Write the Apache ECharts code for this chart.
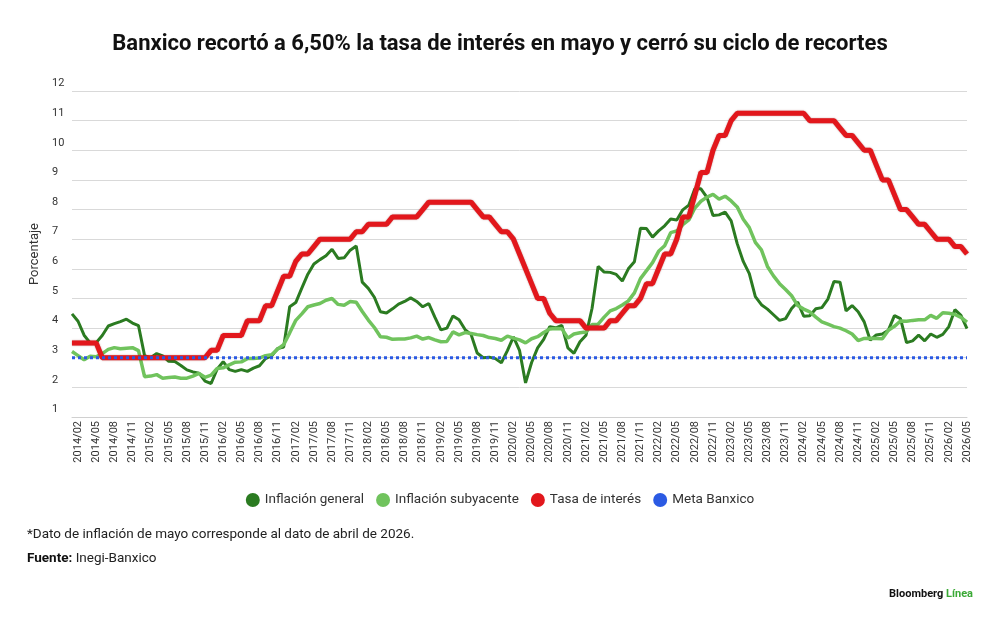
<!DOCTYPE html>
<html>
<head>
<meta charset="utf-8">
<script src="https://cdn.jsdelivr.net/npm/echarts@6/dist/echarts.min.js"></script>
<style>
html,body{margin:0;padding:0;background:#fff;}
#chart{width:1000px;height:619px;}
</style>
</head>
<body>
<div id="chart"></div>
<script>
// monthly points, 2014/01 .. 2026/05
var startYear = 2014, endYear = 2026, endMonth = 5;

var inflacionGeneral = [
	4.48, 4.23, 3.76, 3.50, 3.51, 3.75, 4.07, 4.15, 4.22, 4.30, 4.17, 4.08,
	3.07, 3.00, 3.14, 3.06, 2.88, 2.87, 2.74, 2.59, 2.52, 2.48, 2.21, 2.13,
	2.61, 2.87, 2.60, 2.54, 2.60, 2.54, 2.65, 2.73, 2.97, 3.06, 3.31, 3.36,
	4.72, 4.86, 5.35, 5.82, 6.16, 6.31, 6.44, 6.66, 6.35, 6.37, 6.63, 6.77,
	5.55, 5.34, 5.04, 4.55, 4.51, 4.65, 4.81, 4.90, 5.02, 4.90, 4.72, 4.83,
	4.37, 3.94, 4.00, 4.41, 4.28, 3.95, 3.78, 3.16, 3.00, 3.02, 2.97, 2.83,
	3.24, 3.70, 3.25, 2.15, 2.84, 3.33, 3.62, 4.05, 4.01, 4.09, 3.33, 3.15,
	3.54, 3.76, 4.67, 6.08, 5.89, 5.88, 5.81, 5.59, 6.00, 6.24, 7.37, 7.36,
	7.07, 7.28, 7.45, 7.68, 7.65, 7.99, 8.15, 8.70, 8.70, 8.41, 7.80, 7.82,
	7.91, 7.62, 6.85, 6.25, 5.84, 5.06, 4.79, 4.64, 4.45, 4.26, 4.32, 4.66,
	4.88, 4.40, 4.42, 4.65, 4.69, 4.98, 5.57, 5.55, 4.58, 4.76, 4.55, 4.21,
	3.59, 3.77, 3.80, 3.93, 4.42, 4.32, 3.51, 3.57, 3.76, 3.57, 3.80, 3.69,
	3.79, 4.05, 4.62, 4.43, 3.98
];

var inflacionSubyacente = [
	3.21, 3.07, 2.93, 3.05, 3.03, 3.14, 3.28, 3.34, 3.30, 3.32, 3.34, 3.24,
	2.36, 2.38, 2.43, 2.31, 2.33, 2.35, 2.31, 2.31, 2.38, 2.47, 2.34, 2.41,
	2.64, 2.66, 2.76, 2.85, 2.86, 2.97, 2.97, 2.99, 3.07, 3.10, 3.29, 3.44,
	3.84, 4.26, 4.48, 4.72, 4.78, 4.83, 4.94, 5.00, 4.80, 4.77, 4.90, 4.87,
	4.56, 4.27, 4.02, 3.71, 3.69, 3.62, 3.63, 3.63, 3.67, 3.73, 3.63, 3.68,
	3.60, 3.54, 3.55, 3.87, 3.77, 3.85, 3.82, 3.78, 3.75, 3.68, 3.65, 3.59,
	3.73, 3.66, 3.60, 3.50, 3.64, 3.71, 3.85, 3.97, 3.99, 3.98, 3.66, 3.80,
	3.84, 3.87, 4.12, 4.13, 4.37, 4.58, 4.66, 4.78, 4.92, 5.19, 5.67, 5.94,
	6.21, 6.59, 6.78, 7.22, 7.28, 7.49, 7.65, 8.05, 8.28, 8.42, 8.51, 8.35,
	8.45, 8.29, 8.09, 7.67, 7.39, 6.89, 6.64, 6.08, 5.76, 5.50, 5.30, 5.09,
	4.76, 4.64, 4.55, 4.37, 4.21, 4.13, 4.05, 4.00, 3.91, 3.80, 3.58, 3.65,
	3.66, 3.65, 3.64, 3.93, 4.06, 4.24, 4.23, 4.26, 4.28, 4.28, 4.43, 4.33,
	4.52, 4.50, 4.46, 4.36, 4.20
];

var tasaInteres = [
	3.50, 3.50, 3.50, 3.50, 3.50, 3.00, 3.00, 3.00, 3.00, 3.00, 3.00, 3.00,
	3.00, 3.00, 3.00, 3.00, 3.00, 3.00, 3.00, 3.00, 3.00, 3.00, 3.00, 3.25,
	3.25, 3.75, 3.75, 3.75, 3.75, 4.25, 4.25, 4.25, 4.75, 4.75, 5.25, 5.75,
	5.75, 6.25, 6.50, 6.50, 6.75, 7.00, 7.00, 7.00, 7.00, 7.00, 7.00, 7.25,
	7.25, 7.50, 7.50, 7.50, 7.50, 7.75, 7.75, 7.75, 7.75, 7.75, 8.00, 8.25,
	8.25, 8.25, 8.25, 8.25, 8.25, 8.25, 8.25, 8.00, 7.75, 7.75, 7.50, 7.25,
	7.25, 7.00, 6.50, 6.00, 5.50, 5.00, 5.00, 4.50, 4.25, 4.25, 4.25, 4.25,
	4.25, 4.00, 4.00, 4.00, 4.00, 4.25, 4.25, 4.50, 4.75, 4.75, 5.00, 5.50,
	5.50, 6.00, 6.50, 6.50, 7.00, 7.75, 7.75, 8.50, 9.25, 9.25, 10.00, 10.50,
	10.50, 11.00, 11.25, 11.25, 11.25, 11.25, 11.25, 11.25, 11.25, 11.25, 11.25, 11.25,
	11.25, 11.25, 11.00, 11.00, 11.00, 11.00, 11.00, 10.75, 10.50, 10.50, 10.25, 10.00,
	10.00, 9.50, 9.00, 9.00, 8.50, 8.00, 8.00, 7.75, 7.50, 7.50, 7.25, 7.00,
	7.00, 7.00, 6.75, 6.75, 6.50
];

var metaBanxico = 3;

var colorGeneral = "#2b7b21",
	colorSubyacente = "#70c35d",
	colorTasa = "#e2171c",
	colorMeta = "#2b5ae3";

var font = "Roboto, 'Noto Sans', sans-serif";

var months = [];
for (var y = startYear; y <= endYear; y++) {
	for (var m = 1; m <= 12; m++) {
		if (y === endYear && m > endMonth) break;
		months.push(y + "/" + (m < 10 ? "0" + m : m));
	}
}
var metaData = months.map(function () { return metaBanxico; });

chartBanxico();

function chartBanxico() {
	var chart = echarts.init(document.getElementById("chart"));

	function lineSeries(name, data, color, width, extra) {
		var s = {
			name: name,
			type: "line",
			data: data,
			symbol: "none",
			lineStyle: { color: color, width: width },
			itemStyle: { color: color }
		};
		for (var k in extra) s.lineStyle[k] = extra[k];
		return s;
	}

	var option = {
		backgroundColor: "#fff",
		animation: false,
		title: [{
			text: "Banxico recortó a 6,50% la tasa de interés en mayo y cerró su ciclo de recortes",
			left: "center",
			top: 28,
			textStyle: { fontFamily: font, fontSize: 22, fontWeight: "bold", color: "#111" }
		}, {
			text: "*Dato de inflación de mayo corresponde al dato de abril de 2026.",
			left: 22,
			top: 523,
			textStyle: { fontFamily: font, fontSize: 13.5, fontWeight: "normal", color: "#222" }
		}, {
			text: "{b|Fuente:} Inegi-Banxico",
			left: 22,
			top: 547,
			textStyle: {
				fontFamily: font, fontSize: 13.5, fontWeight: "normal", color: "#222",
				rich: { b: { fontFamily: font, fontSize: 13.5, fontWeight: "bold", color: "#111" } }
			}
		}, {
			text: "{b|Bloomberg}{g| Línea}",
			right: 22,
			top: 584,
			textStyle: {
				rich: {
					b: { fontFamily: font, fontSize: 11, fontWeight: "bold", color: "#111" },
					g: { fontFamily: font, fontSize: 11, fontWeight: "bold", color: "#3aa935" }
				}
			}
		}],
		legend: {
			top: 488,
			left: "center",
			icon: "circle",
			itemWidth: 14,
			itemHeight: 14,
			itemGap: 12,
			textStyle: { fontFamily: font, fontSize: 13.5, color: "#333" },
			data: ["Inflación general", "Inflación subyacente", "Tasa de interés", "Meta Banxico"]
		},
		grid: { left: 72, right: 33, top: 91, bottom: 202 },
		xAxis: {
			type: "category",
			boundaryGap: false,
			data: months,
			axisLine: { lineStyle: { color: "#d0d0d0" } },
			axisTick: { show: false },
			axisLabel: {
				rotate: 90,
				margin: 4,
				fontFamily: font,
				fontSize: 11,
				color: "#333",
				interval: function (idx) { return idx % 3 === 1; }
			}
		},
		yAxis: {
			type: "value",
			min: 1,
			max: 12,
			interval: 1,
			name: "Porcentaje",
			nameLocation: "middle",
			nameGap: 21,
			nameTextStyle: { fontFamily: font, fontSize: 13, color: "#333" },
			axisLine: { show: false },
			axisTick: { show: false },
			splitLine: { lineStyle: { color: "#d9d9d9", width: 1 } },
			axisLabel: {
				align: "left",
				verticalAlign: "bottom",
				margin: 20,
				padding: [0, 0, 2, 0],
				fontFamily: font,
				fontSize: 11,
				color: "#333"
			}
		},
		series: [
			lineSeries("Inflación general", inflacionGeneral, colorGeneral, 3),
			lineSeries("Inflación subyacente", inflacionSubyacente, colorSubyacente, 3.5),
			lineSeries("Tasa de interés", tasaInteres, colorTasa, 5, { shadowColor: "rgba(120,0,0,0.5)", shadowBlur: 1.5 }),
			lineSeries("Meta Banxico", metaData, colorMeta, 3, { type: [3, 3] })
		]
	};

	chart.setOption(option);
}
</script>
</body>
</html>
